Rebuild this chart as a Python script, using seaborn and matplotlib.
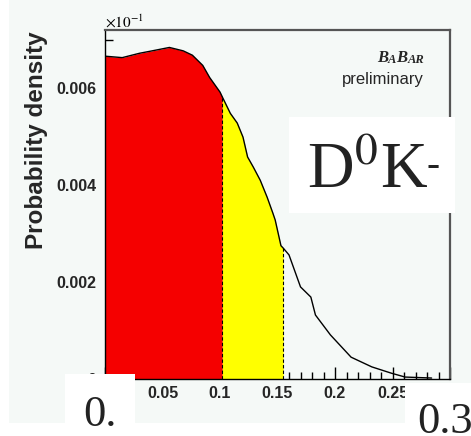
import numpy as np
import pandas as pd
import matplotlib
matplotlib.use("Agg")
import matplotlib.pyplot as plt
import seaborn as sns
from matplotlib.patches import Rectangle
from matplotlib.ticker import MultipleLocator

# ---- data ----
x_vals = [0.0, 0.015, 0.030, 0.041, 0.056, 0.068, 0.076, 0.085, 0.091, 0.100,
          0.102, 0.109, 0.115, 0.120, 0.124, 0.129, 0.135, 0.141, 0.146, 0.148,
          0.153, 0.155, 0.160, 0.170, 0.179, 0.183, 0.196, 0.214, 0.232, 0.249,
          0.261, 0.284]
density = [0.00666, 0.00663, 0.00672, 0.00677, 0.00684, 0.00677, 0.00668, 0.00647,
           0.00622, 0.00592, 0.00582, 0.00548, 0.00528, 0.00499, 0.00458, 0.00437,
           0.00410, 0.00375, 0.00342, 0.00328, 0.00275, 0.00270, 0.00256, 0.00190,
           0.00169, 0.00132, 0.00091, 0.00045, 0.00025, 0.00012, 0.00004, 0.00002]
cut_68 = 0.102
cut_95 = 0.155
x_ticks = [0, 0.05, 0.1, 0.15, 0.2, 0.25, 0.3]
x_tick_labels = ["0", "0.05", "0.1", "0.15", "0.2", "0.25", "0.3"]
y_ticks = [0, 0.002, 0.004, 0.006]
y_tick_labels = ["0", "0.002", "0.004", "0.006"]

df = pd.DataFrame({"x": x_vals, "y": density})

sns.set_theme(style="white")
plt.rcParams["font.family"] = ["Liberation Sans", "DejaVu Sans"]
plt.rcParams["mathtext.fontset"] = "stix"

bg = "#f5f9f7"
fig = plt.figure(figsize=(4.71, 4.36), dpi=100, facecolor=bg)
ax = fig.add_axes([105 / 471, 1 - 379 / 436, 345 / 471, 349 / 436])
ax.set_facecolor(bg)

xa = np.array(x_vals)
ya = np.array(density)
m1 = xa <= cut_68
m2 = (xa >= cut_68) & (xa <= cut_95)
ax.fill_between(xa[m1], 0, ya[m1], color="#f50000", lw=0, zorder=1)
ax.fill_between(xa[m2], 0, ya[m2], color="#ffff00", lw=0, zorder=1)
sns.lineplot(data=df, x="x", y="y", ax=ax, color="black", lw=1.0, zorder=3)
for c in (cut_68, cut_95):
    ax.plot([c, c], [0, np.interp(c, xa, ya)], color="black", lw=0.8,
            ls=(0, (3, 2)), zorder=2)

ax.set_xlim(0, 0.3)
ax.set_ylim(0, 0.0072)
ax.set_xticks(x_ticks)
ax.set_xticklabels(x_tick_labels, fontsize=11.5, fontweight="bold")
ax.set_yticks(y_ticks)
ax.set_yticklabels(y_tick_labels, fontsize=11.5, fontweight="bold")
ax.xaxis.set_minor_locator(MultipleLocator(0.01))
ax.yaxis.set_minor_locator(MultipleLocator(0.0005))
ax.tick_params(which="both", direction="in", bottom=True, left=True,
               top=False, right=False, color="black")
ax.tick_params(which="major", axis="y", length=12, width=1, pad=6)
ax.tick_params(which="minor", axis="y", length=6, width=1)
ax.tick_params(which="major", axis="x", length=9, width=1, pad=5)
ax.tick_params(which="minor", axis="x", length=5, width=1)
ax.set_xlabel("")
ax.set_ylabel("Probability density", fontsize=17.5, fontweight="bold", loc="top")
ax.yaxis.set_label_coords((48 - 105) / 345, 0.995)
for s in ("left", "bottom"):
    ax.spines[s].set_color("black")
    ax.spines[s].set_linewidth(1.0)
for s in ("top", "right"):
    ax.spines[s].set_color("#555555")
    ax.spines[s].set_linewidth(1.6)

fig.text(105 / 471, 1 - 28 / 436, r"$\times10^{-1}$", fontsize=11, ha="left",
         va="baseline", color="black")

# BABAR logo in small caps style
parts = [("B", 12), ("A", 9), ("B", 12), ("AR", 9)]
prev = ax.text((377 - 105) / 345, (379 - 66) / 349, parts[0][0],
               transform=ax.transAxes, ha="left", va="bottom",
               fontsize=parts[0][1], fontweight="bold", style="italic",
               family="Liberation Serif")
for txt, fs in parts[1:]:
    prev = ax.annotate(txt, xy=(1, 0), xycoords=prev, ha="left", va="bottom",
                       fontsize=fs, fontweight="bold", style="italic",
                       family="Liberation Serif")
ax.text((424 - 105) / 345, (379 - 80) / 349, "preliminary", transform=ax.transAxes,
        ha="right", va="center", fontsize=12)

# white overlay boxes
fig.patches.append(Rectangle((289 / 471, 1 - 213 / 436), 166 / 471, 96 / 436,
                             transform=fig.transFigure, facecolor="white",
                             edgecolor="none", zorder=10))
main = fig.text(307 / 471, 1 - 188 / 436, r"D$^\mathrm{0}$K", fontsize=46.5,
                family="Liberation Serif", ha="left", va="baseline",
                color="#222222", zorder=11)
dash = plt.Annotation("-", xy=(0.985, 0.6), xycoords=main, ha="left",
                      va="center", fontsize=28, family="Liberation Serif",
                      color="#222222", zorder=11)
fig.add_artist(dash)
fig.patches.append(Rectangle((65 / 471, 1 - 427 / 436), 70 / 471, 53 / 436,
                             transform=fig.transFigure, facecolor="white",
                             edgecolor="none", zorder=10))
fig.text(100 / 471, 1 - 426 / 436, "0.", fontsize=32, family="Liberation Serif",
         ha="center", va="baseline", color="#222222", zorder=11)
fig.patches.append(Rectangle((405 / 471, 0), 66 / 471, 53 / 436,
                             transform=fig.transFigure, facecolor="white",
                             edgecolor="none", zorder=10))
fig.text(417 / 471, 1 - 433 / 436, "0.3", fontsize=32, family="Liberation Serif",
         ha="left", va="baseline", color="#222222", zorder=11)

# white margins of the pasted picture
fig.patches.append(Rectangle((0, 0), 9 / 471, 1, transform=fig.transFigure,
                             facecolor="white", edgecolor="none", zorder=9))
fig.patches.append(Rectangle((0, 0), 1, 13 / 436, transform=fig.transFigure,
                             facecolor="white", edgecolor="none", zorder=9))

fig.savefig("out.png", dpi=100, facecolor=bg)
